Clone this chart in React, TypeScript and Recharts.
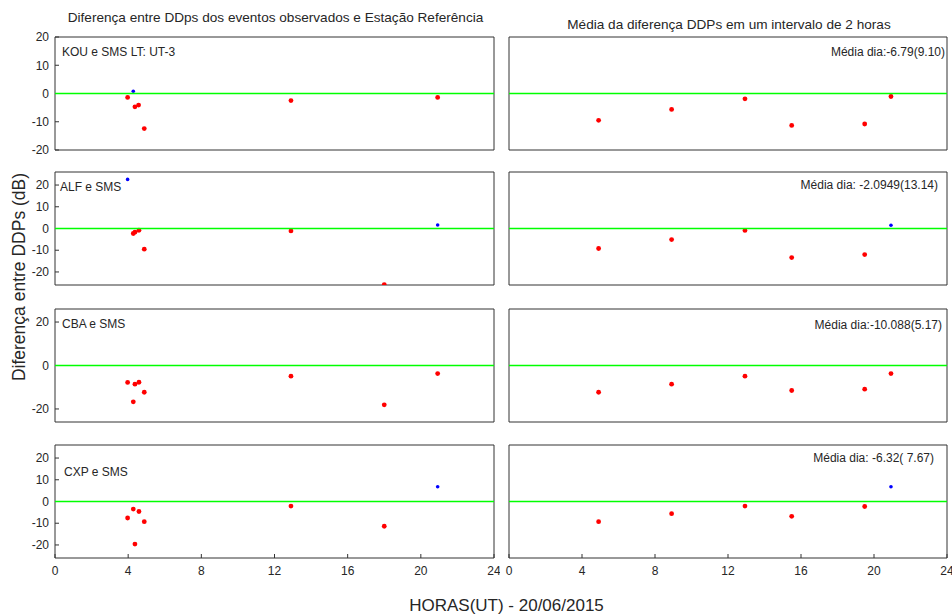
import React from 'react';
import { ScatterChart, Scatter, XAxis, YAxis, ReferenceLine } from 'recharts';

// ---------- data ----------
const hourTicks = [0, 4, 8, 12, 16, 20, 24];
const ticksFull = [-20, -10, 0, 10, 20];
const ticksCoarse = [-20, 0, 20];
const zeroLevel = 0;

const kouHours = [3.97, 4.28, 4.37, 4.57, 4.88, 12.9, 20.92];
const kouDiff = [-1.4, 0.8, -4.7, -4.1, -12.4, -2.5, -1.4];

const alfHours = [3.97, 4.28, 4.37, 4.59, 4.88, 12.9, 18.0, 20.92];
const alfDiff = [22.6, -2.3, -1.7, -0.8, -9.5, -1.1, -25.8, 1.6];

const cbaHours = [3.97, 4.28, 4.37, 4.59, 4.88, 12.9, 18.0, 20.92];
const cbaDiff = [-7.8, -16.7, -8.6, -7.7, -12.3, -4.9, -18.1, -3.7];

const cxpHours = [3.97, 4.28, 4.37, 4.59, 4.88, 12.9, 18.0, 20.92];
const cxpDiff = [-7.6, -3.5, -19.6, -4.6, -9.3, -2.1, -11.4, 6.8];

const meanHours = [4.91, 8.91, 12.93, 15.49, 19.49, 20.93];
const kouMean = [-9.5, -5.65, -1.9, -11.3, -10.8, -1.06];
const alfMean = [-9.2, -5.1, -0.9, -13.4, -12.0, 1.5];
const cbaMean = [-12.3, -8.6, -4.9, -11.5, -10.9, -3.7];
const cxpMean = [-9.3, -5.6, -2.1, -6.8, -2.3, 6.8];

const pairLabels = ['KOU e SMS LT: UT-3', 'ALF e SMS', 'CBA e SMS', 'CXP e SMS'];
const meanLabels = ['Média dia:-6.79(9.10)', 'Média dia: -2.0949(13.14)', 'Média dia:-10.088(5.17)', 'Média dia: -6.32( 7.67)'];

const leftTitle = 'Diferença entre DDps dos eventos observados e Estação Referência';
const rightTitle = 'Média da diferença DDPs em um intervalo de 2 horas';
const yTitle = 'Diferença entre DDPs (dB)';
const xTitle = 'HORAS(UT) - 20/06/2015';

// ---------- styling / layout ----------
const FONT = '"Liberation Sans", Arial, Helvetica, sans-serif';
const AXIS = '#333333';
const TXT = '#262626';
const PLOT_H = 113;
const PAD = 10;
const rowTops = [37, 172, 309, 445];

function Dot(props: any) {
  const { cx, cy, payload } = props;
  if (cx == null || cy == null || isNaN(cx) || isNaN(cy)) return <g />;
  const pos = payload.diff > 0;
  return <circle cx={cx} cy={cy} r={pos ? 1.8 : 2.4} fill={pos ? '#0000ff' : '#ff0000'} stroke="none" />;
}

type PanelProps = {
  hours: number[];
  diffs: number[];
  domain: [number, number];
  yTicks: number[];
  left: number;
  plotLeft: number;
  plotRight: number;
  width: number;
  top: number;
  showY: boolean;
  showX: boolean;
};

function Panel(p: PanelProps) {
  const data = p.hours.map((h, i) => ({ hour: h, diff: p.diffs[i] }));
  const bottomH = p.showX ? 26 : 1;
  const tickStyle = { fill: TXT, fontSize: 12, fontFamily: FONT };
  return (
    <div style={{ position: 'absolute', left: p.left, top: p.top - 1 - PAD }}>
      <ScatterChart
        width={p.width}
        height={PAD + PLOT_H + 1 + bottomH + PAD}
        margin={{ top: PAD, right: p.width - p.plotRight - 1, bottom: PAD, left: 0 }}
      >
        <XAxis
          xAxisId="b"
          type="number"
          dataKey="hour"
          domain={[0, 24]}
          ticks={hourTicks}
          interval={0}
          orientation="bottom"
          height={bottomH}
          stroke={AXIS}
          tickLine={p.showX ? { stroke: AXIS } : false}
          tick={p.showX ? tickStyle : false}
          tickSize={-4}
          tickMargin={12}
          allowDataOverflow
        />
        <XAxis
          xAxisId="t"
          type="number"
          dataKey="hour"
          domain={[0, 24]}
          ticks={hourTicks}
          interval={0}
          orientation="top"
          height={1}
          stroke={AXIS}
          tickLine={p.showX ? { stroke: AXIS } : false}
          tick={false}
          tickSize={-4}
          allowDataOverflow
        />
        <YAxis
          yAxisId="l"
          type="number"
          dataKey="diff"
          domain={p.domain}
          ticks={p.yTicks}
          interval={0}
          orientation="left"
          width={p.plotLeft}
          stroke={AXIS}
          tickLine={p.showY ? { stroke: AXIS } : false}
          tick={p.showY ? tickStyle : false}
          tickSize={-4}
          tickMargin={10}
          allowDataOverflow
        />
        <YAxis
          yAxisId="r"
          type="number"
          dataKey="diff"
          domain={p.domain}
          ticks={p.yTicks}
          interval={0}
          orientation="right"
          width={1}
          stroke={AXIS}
          tickLine={p.showY ? { stroke: AXIS } : false}
          tick={false}
          tickSize={-4}
          allowDataOverflow
        />
        <ReferenceLine
          xAxisId="b"
          yAxisId="l"
          y={zeroLevel}
          stroke="#00ff00"
          strokeWidth={1.5}
          ifOverflow="visible"
          {...({ zIndex: 2000 } as any)}
        />
        <Scatter
          xAxisId="b"
          yAxisId="l"
          data={data}
          dataKey="diff"
          shape={<Dot />}
          isAnimationActive={false}
        />
      </ScatterChart>
    </div>
  );
}

const eventHours = [kouHours, alfHours, cbaHours, cxpHours];
const eventDiffs = [kouDiff, alfDiff, cbaDiff, cxpDiff];
const meanDiffs = [kouMean, alfMean, cbaMean, cxpMean];
const rowDomains: [number, number][] = [[-20, 20], [-26, 26], [-26, 26], [-26, 26]];
const rowTicks = [ticksFull, ticksFull, ticksCoarse, ticksFull];

const pairLabelPos = [
  { left: 62, top: 45 },
  { left: 60, top: 180 },
  { left: 62, top: 317 },
  { left: 64, top: 465 },
];
const meanLabelPos = [
  { right: 7, top: 45 },
  { right: 14, top: 178 },
  { right: 10, top: 318 },
  { right: 18, top: 451 },
];

export default function App() {
  const txt = (extra: React.CSSProperties): React.CSSProperties => ({
    position: 'absolute',
    fontFamily: FONT,
    color: TXT,
    whiteSpace: 'pre',
    ...extra,
  });
  return (
    <div style={{ position: 'absolute', left: 0, top: 0, width: 952, height: 615, background: '#fff', overflow: 'hidden' }}>
      {rowTops.map((t, r) => (
        <React.Fragment key={r}>
          <Panel
            hours={eventHours[r]}
            diffs={eventDiffs[r]}
            domain={rowDomains[r]}
            yTicks={rowTicks[r]}
            left={0}
            plotLeft={55}
            plotRight={494}
            width={500}
            top={t}
            showY={true}
            showX={r === 3}
          />
          <Panel
            hours={meanHours}
            diffs={meanDiffs[r]}
            domain={rowDomains[r]}
            yTicks={rowTicks[r]}
            left={500}
            plotLeft={9}
            plotRight={447}
            width={452}
            top={t}
            showY={false}
            showX={r === 3}
          />
        </React.Fragment>
      ))}

      <div style={txt({ left: 0, width: 551, top: 10, fontSize: 13.6, lineHeight: '16px', textAlign: 'center' })}>{leftTitle}</div>
      <div style={txt({ left: 479, width: 500, top: 17, fontSize: 13.6, lineHeight: '16px', textAlign: 'center' })}>{rightTitle}</div>

      {pairLabels.map((s, i) => (
        <div key={'p' + i} style={txt({ left: pairLabelPos[i].left, top: pairLabelPos[i].top, fontSize: 12, lineHeight: '14px' })}>{s}</div>
      ))}
      {meanLabels.map((s, i) => (
        <div key={'m' + i} style={txt({ right: meanLabelPos[i].right, top: meanLabelPos[i].top, fontSize: 12, lineHeight: '14px', textAlign: 'right' })}>{s}</div>
      ))}

      <div
        style={txt({
          left: 18.5 - 150,
          top: 277 - 11,
          width: 300,
          fontSize: 17.5,
          lineHeight: '22px',
          textAlign: 'center',
          transform: 'rotate(-90deg)',
        })}
      >
        {yTitle}
      </div>
      <div style={txt({ left: 506.5 - 150, width: 300, top: 595, fontSize: 17, lineHeight: '22px', textAlign: 'center' })}>{xTitle}</div>
    </div>
  );
}
